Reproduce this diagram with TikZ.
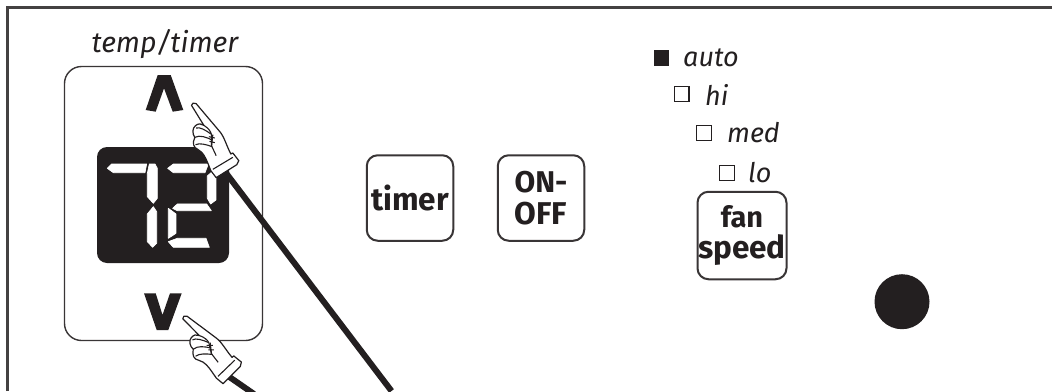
\documentclass[tikz,border=0pt]{standalone}
\usepackage{fontspec}
\setmainfont{Fira Sans}
\definecolor{ink}{HTML}{231F20}
\tikzset{
  frameline/.style={draw=ink!85,line width=3pt},
  keybox/.style={draw=ink!90,line width=2pt,rounded corners=11pt,fill=white},
  keytext/.style={font=\fontsize{31.5}{31.5}\selectfont\bfseries,text=ink,align=center,inner sep=0pt,anchor=center},
  lab/.style={font=\fontsize{27}{27}\selectfont\itshape,text=ink,inner sep=0pt,anchor=base west},
  led/.style={draw=ink,line width=1.1pt,minimum size=14.5pt,inner sep=0pt,anchor=center},
  chev/.style={fill=ink,draw=none},
  seg/.style={fill=white,draw=white,line width=0.7pt,line join=round},
  lead/.style={draw=ink,line width=6pt},
  handline/.style={draw=ink,line width=1.2pt,fill=white,line join=round},
  handthin/.style={draw=ink,line width=1.1pt,line join=round},
}
\newcommand{\pointinghand}{%
  \path[handline] (0,4) .. controls (0,-3) and (8,-5) .. (14,-1)
    -- (85,83) .. controls (98,98) and (105,125) .. (118,150)
    -- (124,147) -- (142,170) -- (136,182) -- (74,221) -- (58,200)
    -- (50,180) .. controls (42,160) and (35,145) .. (20,137)
    .. controls (5,130) and (2,118) .. (10,100)
    .. controls (2,90) and (2,72) .. (12,65)
    .. controls (20,58) and (30,58) .. (37,64) -- cycle;
  \path[handthin] (124,160) -- (64,196);
  \path[handthin] (14,72) .. controls (25,68) and (45,80) .. (58,90);
  \path[handthin] (10,100) .. controls (25,92) and (45,100) .. (62,108);
  \path[handthin] (12,122) .. controls (25,116) and (45,122) .. (62,128);
  \path[handthin] (37,64) .. controls (50,72) and (58,82) .. (60,92) -- (60,125) -- (74,155);
  \path[handthin] (52,98) -- (70,102) (54,112) -- (70,116) (64,92) -- (60,128);
}
\begin{document}
\begin{tikzpicture}[x=1pt,y=-1pt]
\useasboundingbox (0,0) rectangle (1052,391);
\fill[white] (0,0) rectangle (1052,391);
% outer frame
\coordinate (frameBL) at (7.5,391);
\coordinate (frameTL) at (7.5,7.5);
\coordinate (frameTR) at (1052,7.5);
\draw[frameline] (frameBL) -- (frameTL) -- (frameTR);
% temp box
\node[lab,anchor=base,font=\fontsize{28.5}{28.5}\selectfont\itshape] (templabel) at (165,52.5) {temp/timer};
\draw[draw=ink!90,line width=1.4pt,rounded corners=17pt] (64.5,66.5) rectangle (262.5,340.5);
% arrows
\fill[chev] (145.7,110) -- (157.7,75) -- (170.7,75) -- (183.3,110) -- (172.7,111.7) -- (164,88.3) -- (155.7,111.7) -- cycle;
\fill[chev] (144,293.3) -- (155.7,293.3) -- (162.5,315) -- (170,293.3) -- (181.7,293.3) -- (168.3,330) -- (156.7,330) -- cycle;
% display
\fill[ink,rounded corners=10pt] (97,147) rectangle (229,263);
\begin{scope}[shift={(90,140)},x=0.3333pt,y=-0.3333pt]
  \path[seg] (52,85) -- (65,72) -- (170,72) -- (165,98) -- (70,98) -- cycle;
  \path[seg] (178,72) -- (195,72) -- (202,85) -- (202,175) -- (190,190) -- (172,170) -- (172,100) -- cycle;
  \path[seg] (190,200) -- (200,215) -- (200,310) -- (188,322) -- (172,305) -- (172,222) -- cycle;
  \path[seg] (233,85) -- (250,72) -- (355,72) -- (345,98) -- (250,98) -- cycle;
  \path[seg] (352,108) -- (378,85) -- (378,180) -- (362,192) -- (352,175) -- cycle;
  \path[seg] (248,205) -- (262,192) -- (350,192) -- (364,212) -- (262,212) -- cycle;
  \path[seg] (235,205) -- (258,222) -- (258,280) -- (235,295) -- cycle;
  \path[seg] (235,305) -- (262,295) -- (348,295) -- (358,322) -- (250,322) -- cycle;
\end{scope}
% leads
\coordinate (cuffA) at (226,173);
\coordinate (endA) at (391.5,391);
\coordinate (cuffB) at (228,376);
\coordinate (endB) at (254,394);
\draw[lead] (cuffA) -- (endA);
\draw[lead] (cuffB) -- (endB);
% hands
\begin{scope}[shift={(191.5,104)},x=0.3333pt,y=-0.3333pt]\pointinghand\end{scope}
\begin{scope}[shift={(182.5,317.5)},rotate=13,x=0.3333pt,y=-0.3333pt]\pointinghand\end{scope}
% buttons
\node[keybox,minimum width=86.5pt,minimum height=85.5pt,inner sep=0pt,anchor=center,keytext] (timer) at (410,198) {timer};
\node[keybox,minimum width=86.5pt,minimum height=85.5pt,inner sep=0pt,anchor=center,keytext] (onoff) at (541,198) {\fontsize{30}{30}\selectfont ON-\\OFF};
\node[keybox,minimum width=89pt,minimum height=87.5pt,inner sep=0pt,anchor=center,keytext] (fan) at (742,235.5) {\fontsize{29}{27}\selectfont fan\\speed};
% indicators
\node[led,fill=ink] (ledauto) at (661.3,58) {};
\node[led] (ledhi) at (681.7,94) {};
\node[led] (ledmed) at (703.8,133) {};
\node[led] (ledlo) at (726.8,173) {};
\node[lab] (tauto) at (683,66) {auto};
\node[lab] (thi) at (705,105) {hi};
\node[lab] (tmed) at (727,142) {med};
\node[lab] (tlo) at (748,182) {lo};
% dot
\node[circle,fill=ink,draw=none,minimum size=55pt,inner sep=0pt] (dot) at (902,301.7) {};
\end{tikzpicture}
\end{document}
